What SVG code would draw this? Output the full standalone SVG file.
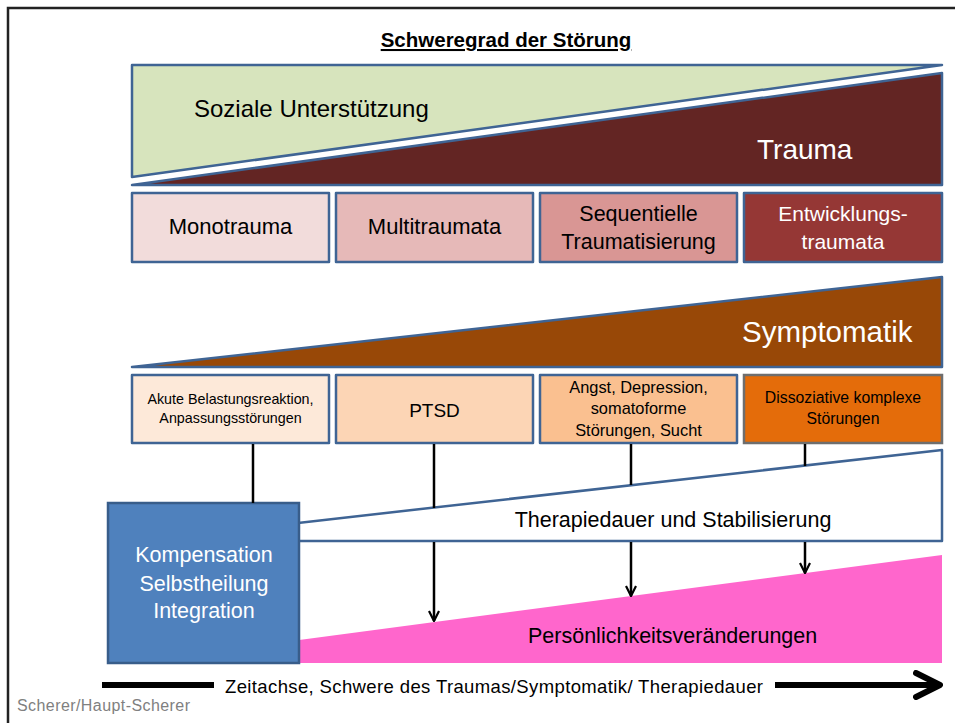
<svg xmlns="http://www.w3.org/2000/svg" width="955" height="723" viewBox="0 0 955 723">
<defs>
<style>
text{font-family:"Liberation Sans",Arial,sans-serif;}
.sh{stroke:#3F6494;stroke-width:2.5;stroke-linejoin:round;}
.c{text-anchor:middle;}
.k{fill:#000;}
.w{fill:#fff;}
.con{stroke:#000;stroke-width:2.5;fill:none;}
</style>
<marker id="ah" viewBox="0 0 12 12" refX="11" refY="6" markerWidth="12" markerHeight="12" markerUnits="userSpaceOnUse" orient="auto">
<path d="M1,1 L11,6 L1,11" fill="none" stroke="#000" stroke-width="2.2"/>
</marker>
<marker id="bh" viewBox="0 0 30 30" refX="27" refY="15" markerWidth="30" markerHeight="30" markerUnits="userSpaceOnUse" orient="auto">
<path d="M3,3 L27,15 L3,27" fill="none" stroke="#000" stroke-width="6" stroke-linecap="round" stroke-linejoin="round"/>
</marker>
</defs>
<rect width="955" height="723" fill="#fff"/>
<path d="M8,723 L8,8 L955,8" fill="none" stroke="#222" stroke-width="2.5"/>

<text x="506" y="47" class="c k" font-size="20.5" font-weight="bold" text-decoration="underline">Schweregrad der Störung</text>

<g id="soziale">
<polygon class="sh" points="132,65 942,65 132,177" fill="#D7E4BD"/>
<text x="194" y="117" class="k" font-size="24">Soziale Unterstützung</text>
</g>
<g id="trauma">
<polygon class="sh" points="132,185 942,73 942,185" fill="#632523"/>
<text x="757" y="159" class="w" font-size="28">Trauma</text>
</g>

<g id="monotrauma">
<rect class="sh" x="132" y="193" width="197" height="69" fill="#F2DCDB"/>
<text x="230.5" y="234" class="c k" font-size="22">Monotrauma</text>
</g>
<g id="multitraumata">
<rect class="sh" x="336" y="193" width="197" height="69" fill="#E6B9B8"/>
<text x="434.5" y="234" class="c k" font-size="22">Multitraumata</text>
</g>
<g id="sequentielle">
<rect class="sh" x="540" y="193" width="197" height="69" fill="#D99694"/>
<text x="638.5" y="221" class="c k" font-size="21.5">Sequentielle</text>
<text x="638.5" y="249" class="c k" font-size="21.5">Traumatisierung</text>
</g>
<g id="entwicklung">
<rect class="sh" x="744" y="193" width="198" height="69" fill="#953735"/>
<text x="843" y="221" class="c w" font-size="21">Entwicklungs-</text>
<text x="843" y="249" class="c w" font-size="21">traumata</text>
</g>

<g id="symptomatik">
<polygon class="sh" points="132,367 942,277 942,367" fill="#984807"/>
<text x="742" y="342" class="w" font-size="29.5">Symptomatik</text>
</g>

<g id="akute">
<rect class="sh" x="132" y="375" width="197" height="68" fill="#FDE9D9"/>
<text x="230.5" y="404" class="c k" font-size="14.3">Akute Belastungsreaktion,</text>
<text x="230.5" y="423" class="c k" font-size="14.3">Anpassungsstörungen</text>
</g>
<g id="ptsd">
<rect class="sh" x="336" y="375" width="197" height="68" fill="#FCD5B5"/>
<text x="434.5" y="417" class="c k" font-size="19">PTSD</text>
</g>
<g id="angst">
<rect class="sh" x="540" y="375" width="197" height="68" fill="#FAC090"/>
<text x="638.5" y="393" class="c k" font-size="16.4">Angst, Depression,</text>
<text x="638.5" y="414" class="c k" font-size="16.4">somatoforme</text>
<text x="638.5" y="436" class="c k" font-size="16.4">Störungen, Sucht</text>
</g>
<g id="dissoziativ">
<rect x="744" y="375" width="198" height="68" fill="#E46C0A" stroke="#6E6E6E" stroke-width="2.5"/>
<text x="843" y="403" class="c k" font-size="15.8">Dissoziative komplexe</text>
<text x="843" y="424" class="c k" font-size="15.8">Störungen</text>
</g>

<g id="therapie">
<polygon class="sh" points="200,534 942,450 942,541 200,541" fill="#fff"/>
<text x="673" y="527" class="c k" font-size="21.5">Therapiedauer und Stabilisierung</text>
</g>
<g id="persoenlichkeit">
<polygon points="140,661 942,555 942,663 140,663" fill="#FF66CC"/>
<text x="528" y="643" class="k" font-size="21.5">Persönlichkeitsveränderungen</text>
</g>
<g id="kompensation">
<rect x="108" y="503" width="191" height="160" fill="#4F81BD" stroke="#385D8A" stroke-width="2.5"/>
<text x="204" y="562" class="c w" font-size="21.5">Kompensation</text>
<text x="204" y="591" class="c w" font-size="21.5">Selbstheilung</text>
<text x="204" y="618" class="c w" font-size="21.5">Integration</text>
</g>

<g id="connectors">
<line class="con" x1="253" y1="444" x2="253" y2="503"/>
<line class="con" x1="434" y1="444" x2="434" y2="508"/>
<line class="con" x1="631" y1="444" x2="631" y2="485"/>
<line class="con" x1="805" y1="444" x2="805" y2="466"/>
<line class="con" x1="434" y1="542" x2="434" y2="621" marker-end="url(#ah)"/>
<line class="con" x1="631" y1="542" x2="631" y2="596" marker-end="url(#ah)"/>
<line class="con" x1="805" y1="542" x2="805" y2="573" marker-end="url(#ah)"/>
<line x1="102" y1="685" x2="214" y2="685" stroke="#000" stroke-width="6"/>
<line x1="775" y1="685" x2="940" y2="685" stroke="#000" stroke-width="6" marker-end="url(#bh)"/>
</g>
<text x="225" y="693" class="k" font-size="18.5" textLength="538">Zeitachse, Schwere des Traumas/Symptomatik/ Therapiedauer</text>
<text x="17" y="711" fill="#808080" font-size="16" textLength="173">Scherer/Haupt-Scherer</text>
</svg>
